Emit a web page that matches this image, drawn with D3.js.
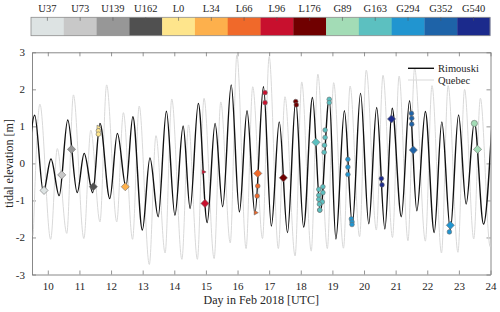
<!DOCTYPE html>
<html><head><meta charset="utf-8">
<script src="https://cdn.jsdelivr.net/npm/d3@7"></script>
<style>body{margin:0;background:#fff}svg{display:block}text{font-family:"Liberation Serif","Times New Roman",serif !important;fill:#262626}</style>
</head><body><div id="chart"></div>
<script>
// ---- data ----
const categories = ["U37","U73","U139","U162","L0","L34","L66","L96","L176","G89","G163","G294","G352","G540"];
const categoryColors = ["#dde3e3","#c8c8c8","#979797","#505050","#fee58c","#fdb04c","#f0692a","#c8102e","#700000","#a3dcb6","#5cc0c0","#2195d0","#1e63a8","#1b2a8c"];
const xTicks = [10,11,12,13,14,15,16,17,18,19,20,21,22,23,24];
const yTicks = [-3,-2,-1,0,1,2,3];
// Rimouski high/low waters (day, m)
const rimDays = [9.33,9.585,9.86,10.10,10.36,10.63,10.93,11.15,11.42,11.65,11.96,12.20,12.47,12.69,12.99,13.23,13.49,13.75,14.02,14.28,14.50,14.76,15.04,15.29,15.53,15.80,16.06,16.30,16.55,16.82,17.07,17.32,17.58,17.84,18.09,18.37,18.62,18.90,19.11,19.38,19.63,19.89,20.15,20.40,20.66,20.89,21.18,21.44,21.67,21.94,22.22,22.46,22.73,22.99,23.23,23.49,23.78,24.04];
const rimLevels = [-0.75,1.30,-0.77,0.12,-0.87,1.17,-0.79,0.27,-0.79,1.08,-0.95,0.81,-0.63,1.26,-1.80,0.15,-1.44,1.41,-1.40,1.01,-1.22,1.62,-1.60,1.08,-1.17,2.12,-1.31,1.42,-1.35,2.07,-1.69,1.12,-1.87,1.69,-1.72,1.78,-1.30,1.76,-2.04,1.42,-1.65,1.89,-1.63,1.51,-1.77,1.49,-1.44,1.69,-1.28,1.40,-1.87,1.12,-1.80,1.31,-1.10,1.12,-1.64,1.00];
// Quebec high/low waters (day, m)
const queDays = [9.54,9.75,10.09,10.30,10.60,10.81,11.14,11.36,11.65,11.86,12.18,12.39,12.68,12.89,13.21,13.42,13.71,13.92,14.24,14.45,14.73,14.94,15.26,15.47,15.77,15.98,16.27,16.48,16.79,17.00,17.29,17.50,17.82,18.03,18.33,18.54,18.84,19.04,19.35,19.56,19.86,20.07,20.39,20.60,20.90,21.11,21.39,21.60,21.94,22.15,22.45,22.66,22.97,23.18,23.47,23.68,23.99,24.20];
const queLevels = [-1.95,1.60,-2.05,0.40,-1.89,1.85,-2.03,0.90,-1.58,2.12,-1.58,1.37,-2.05,1.55,-2.73,0.75,-2.42,1.74,-2.59,1.04,-2.59,1.76,-2.57,1.66,-2.15,2.93,-2.30,2.07,-2.03,2.88,-2.30,1.80,-2.50,2.20,-2.37,2.41,-2.30,2.18,-2.29,2.09,-1.98,2.52,-1.80,2.38,-2.00,2.36,-2.09,2.57,-2.10,2.10,-2.42,2.10,-2.40,2.00,-2.04,1.76,-2.25,1.50];
// sampled markers
const markCat   = ["U37","U73","U139","U162","L0","L0","L0","L34","L96","L96","L66","L66","L66","L66","L96","L96","L176","L176","L176","G163","G163","G163","G163","G163","G163","G163","G163","G163","G163","G163","G163","G163","G163","G163","G163","G294","G294","G294","G294","G294","G294","G540","G540","G540","G352","G352","G352","G352","G294","G294","G89","G89"];
const markDay   = [9.88,10.44,10.75,11.44,11.60,11.60,11.60,12.45,14.92,14.97,16.64,16.64,16.62,16.57,16.87,16.87,17.45,17.84,17.86,18.48,18.77,18.77,18.75,18.74,18.90,18.90,18.57,18.70,18.57,18.70,18.57,18.68,18.59,18.60,18.60,19.49,19.49,19.49,19.60,19.62,19.62,20.55,20.57,20.87,21.50,21.51,21.51,21.56,22.70,22.73,23.49,23.59];
const markLevel = [-0.73,-0.31,0.38,-0.63,0.97,0.88,0.79,-0.63,-0.23,-1.08,-0.27,-0.61,-0.88,-1.33,1.91,1.64,-0.39,1.67,1.58,0.57,0.90,0.70,0.49,0.30,1.73,1.64,-0.70,-0.63,-0.86,-0.79,-0.97,-1.04,-1.10,-1.26,-1.26,0.11,-0.10,-0.30,-1.50,-1.58,-1.65,-0.41,-0.58,1.20,1.35,1.22,1.06,0.36,-1.85,-1.67,1.08,0.38];
const markShape = ["d","d","d","d","t","o","o","d","t","d","d","o","o","t","o","o","d","o","o","d","o","o","o","o","o","o","o","o","o","o","o","o","o","o","o","o","o","o","o","o","o","o","o","d","o","o","o","d","o","d","O","d"];
const seriesNames = ["Rimouski","Quebec"];

// ---- layout ----
const W = 500, H = 312;
const FONT = '"Liberation Serif","Times New Roman",serif';
const plot = {l:32, r:490.5, t:52.3, b:274.5};
const svg = d3.select("#chart").append("svg").attr("width",W).attr("height",H);
const x = d3.scaleLinear().domain([9.5,24]).range([plot.l, plot.r]);
const y = d3.scaleLinear().domain([-3,3]).range([plot.b, plot.t]);
const color = d3.scaleOrdinal().domain(categories).range(categoryColors);

// ---- colorbar ----
const cb = {l:31, r:490, t:17.3, b:35.7};
const cbx = d3.scaleBand().domain(categories).range([cb.l, cb.r]).padding(0);
svg.append("g").selectAll("rect").data(categories).join("rect")
  .attr("x", d=>cbx(d)).attr("y", cb.t).attr("width", cbx.bandwidth()+0.3).attr("height", cb.b-cb.t)
  .attr("fill", d=>color(d));
svg.append("rect").attr("x",cb.l).attr("y",cb.t).attr("width",cb.r-cb.l).attr("height",cb.b-cb.t)
  .attr("fill","none").attr("stroke","#8c8c8c").attr("stroke-width",0.8);
svg.append("g").selectAll("line").data(categories).join("line")
  .attr("x1", d=>cbx(d)+cbx.bandwidth()/2).attr("x2", d=>cbx(d)+cbx.bandwidth()/2)
  .attr("y1", cb.t).attr("y2", cb.t+3.5).attr("stroke","#555").attr("stroke-width",0.6);
svg.append("g").selectAll("text").data(categories).join("text")
  .attr("x", d=>cbx(d)+cbx.bandwidth()/2).attr("y", 12)
  .attr("text-anchor","middle").style("font-family",FONT).style("font-size","10.5px").text(d=>d);

// ---- axes ----
const gx = svg.append("g").attr("transform",`translate(0,${plot.b})`)
  .call(d3.axisBottom(x).tickValues(xTicks).tickSizeInner(-4).tickSizeOuter(0).tickPadding(8).tickFormat(d3.format("d")));
const gxt = svg.append("g").attr("transform",`translate(0,${plot.t})`)
  .call(d3.axisTop(x).tickValues(xTicks).tickSizeInner(-4).tickSizeOuter(0).tickFormat(""));
const gy = svg.append("g").attr("transform",`translate(${plot.l},0)`)
  .call(d3.axisLeft(y).tickValues(yTicks).tickSizeInner(-4).tickSizeOuter(0).tickPadding(7).tickFormat(d=>d<0?"-"+Math.abs(d):d));
const gyr = svg.append("g").attr("transform",`translate(${plot.r},0)`)
  .call(d3.axisRight(y).tickValues(yTicks).tickSizeInner(-4).tickSizeOuter(0).tickFormat(""));
[gx,gxt,gy,gyr].forEach(g=>{
  g.attr("font-family",FONT);
  g.select(".domain").attr("stroke","#7a7a7a").attr("stroke-width",0.9);
  g.selectAll(".tick line").attr("stroke","#7a7a7a").attr("stroke-width",0.8);
  g.selectAll(".tick text").style("font-family",FONT).style("font-size","11px").attr("fill","#262626");
});

svg.append("text").attr("x",(plot.l+plot.r)/2).attr("y",304).attr("text-anchor","middle")
  .style("font-family",FONT).style("font-size","12px").text("Day in Feb 2018 [UTC]");
svg.append("text").attr("transform",`translate(13,${(plot.t+plot.b)/2}) rotate(-90)`).attr("text-anchor","middle")
  .style("font-family",FONT).style("font-size","12px").text("tidal elevation [m]");

// ---- curves ----
svg.append("clipPath").attr("id","clip").append("rect")
  .attr("x",plot.l).attr("y",plot.t).attr("width",plot.r-plot.l).attr("height",plot.b-plot.t);
const pg = svg.append("g").attr("clip-path","url(#clip)");
const line = d3.line().x(d=>x(d[0])).y(d=>y(d[1])).curve(d3.curveMonotoneX);
pg.append("path").datum(d3.zip(queDays,queLevels)).attr("d",line)
  .attr("fill","none").attr("stroke","#d9d9d9").attr("stroke-width",1);
pg.append("path").datum(d3.zip(rimDays,rimLevels)).attr("d",line)
  .attr("fill","none").attr("stroke","#111").attr("stroke-width",1.4);

// ---- markers ----
const marks = markCat.map((c,i)=>({c, d:markDay[i], v:markLevel[i], s:markShape[i]}));
const sym = {d: d3.symbol().type(d3.symbolDiamond2).size(42), o: d3.symbol().type(d3.symbolCircle).size(17), O: d3.symbol().type(d3.symbolCircle).size(30), t: d3.symbol().type(d3.symbolTriangle2).size(16)};
pg.append("g").selectAll("path").data(marks).join("path")
  .attr("d", m=>sym[m.s]())
  .attr("transform", m=>`translate(${x(m.d)},${y(m.v)})` + (m.s==="t" ? " rotate(90)" : ""))
  .attr("fill", m=>color(m.c)).attr("stroke","#6e6e6e").attr("stroke-width",0.6);

// ---- legend ----
const lg = svg.append("g");
const legY = [68.3, 80];
const legCol = ["#111","#d9d9d9"], legW = [1.4,1];
seriesNames.forEach((n,i)=>{
  lg.append("line").attr("x1",408).attr("x2",434).attr("y1",legY[i]).attr("y2",legY[i]).attr("stroke",legCol[i]).attr("stroke-width",legW[i]);
  lg.append("text").attr("x",438).attr("y",legY[i]+3.5).style("font-family",FONT).style("font-size","10.5px").text(n);
});
</script></body></html>
